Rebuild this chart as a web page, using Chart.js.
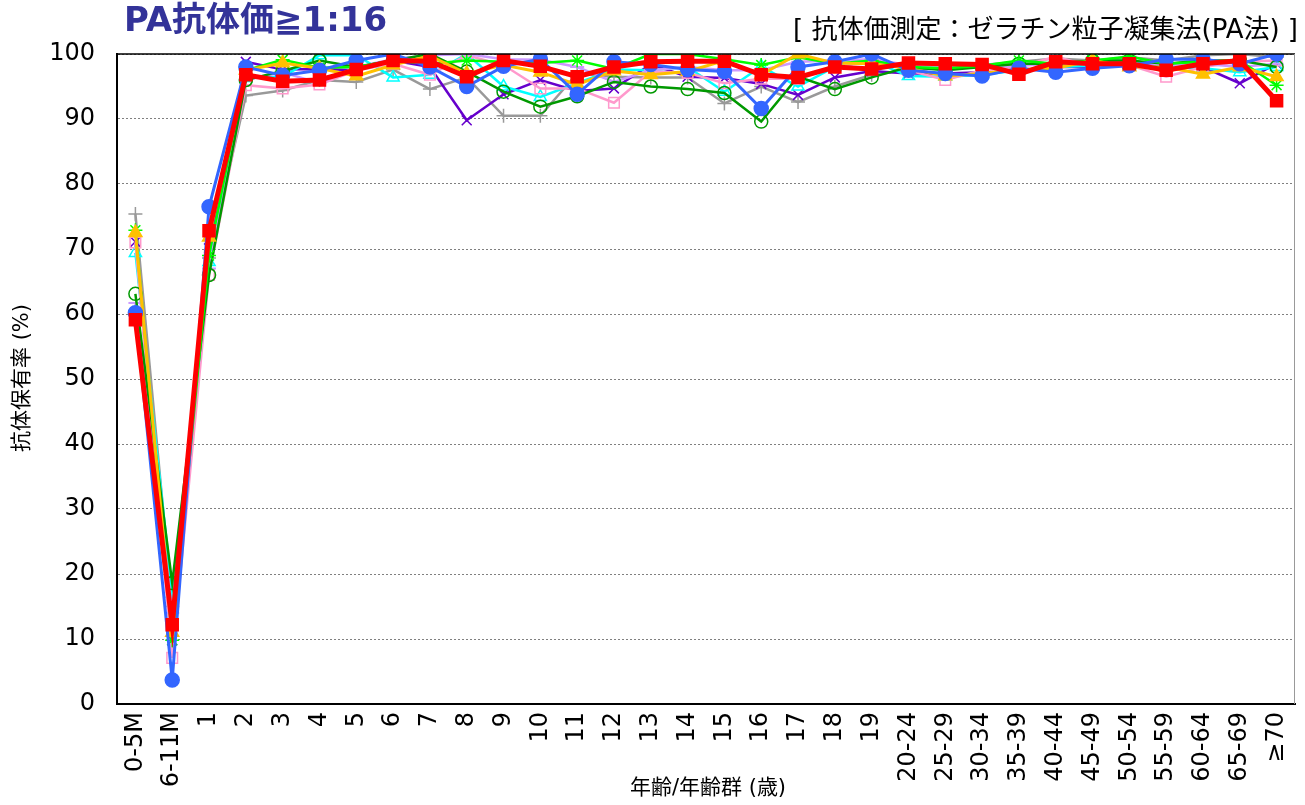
<!DOCTYPE html>
<html>
<head>
<meta charset="utf-8">
<script src="https://cdn.jsdelivr.net/npm/chart.js@4/dist/chart.umd.min.js"></script>
<style>
html,body{margin:0;padding:0;background:#fff;}
#wrap{position:relative;width:1305px;height:805px;}
canvas{display:block;}
</style>
</head>
<body>
<div id="wrap"><canvas id="c" width="1305" height="805"></canvas></div>
<script>
const categories = ['0-5M','6-11M','1','2','3','4','5','6','7','8','9','10','11','12','13','14','15','16','17','18','19','20-24','25-29','30-34','35-39','40-44','45-49','50-54','55-59','60-64','65-69','≥70'];
const yTicks = [0,10,20,30,40,50,60,70,80,90,100];

const redSeries      = [59.1,12.2,72.8,96.8,95.8,96.0,97.6,99.0,98.9,96.5,99.0,98.1,96.5,98.0,98.8,98.9,98.9,96.8,96.4,98.0,97.7,98.6,98.5,98.4,96.9,98.8,98.5,98.5,97.5,98.5,99.0,92.8];
const blueSeries     = [60.2,3.7,76.5,98.0,96.7,97.5,99.0,100,98.0,95.0,98.1,99.2,93.8,98.8,98.4,97.6,97.3,91.6,98.0,98.8,100,97.5,97.0,96.6,97.8,97.2,97.8,98.2,99.2,99.2,98.5,100];
const goldSeries     = [72.5,11.0,71.8,97.5,98.6,97.8,96.6,98.3,99.7,97.0,98.3,97.2,95.3,97.4,96.8,97.3,99.0,96.8,100,98.6,98.5,97.8,96.6,97.0,97.6,97.8,99.0,98.0,98.0,96.9,98.0,96.5];
const greenSeries    = [63.1,18.6,66.0,96.0,97.4,99.0,98.0,99.0,100,97.3,94.2,91.9,93.5,95.7,95.0,94.6,94.0,89.6,96.5,94.6,96.4,98.0,97.5,98.0,98.5,98.5,99.0,99.0,98.5,99.0,99.0,98.0];
const graySeries     = [75.4,15.0,68.6,93.6,94.4,96.0,95.7,97.6,94.6,96.4,90.5,90.5,97.0,96.5,96.4,96.4,92.4,95.0,92.6,95.0,96.8,97.5,98.0,98.3,98.8,99.3,99.0,99.5,99.0,99.8,100,99.5];
const purpleSeries   = [71.1,9.8,70.1,98.8,97.6,97.7,97.5,99.0,98.0,89.8,93.8,96.0,94.3,94.7,98.4,96.5,96.3,95.4,93.7,96.4,97.4,97.0,97.0,97.2,97.3,98.0,98.0,98.5,98.0,98.0,95.5,98.5];
const cyanSeries     = [69.4,17.0,68.0,96.3,96.5,99.8,99.8,96.4,96.8,100,95.0,93.4,95.5,97.6,97.5,98.0,94.2,98.1,95.0,98.0,99.0,96.6,96.5,96.8,97.5,98.0,98.2,98.3,98.0,97.8,97.2,98.0];
const pinkSeries     = [71.0,7.1,66.0,95.2,94.7,95.3,97.5,98.5,96.8,99.8,98.3,94.7,94.7,92.5,97.3,97.1,95.5,96.2,96.2,98.0,99.0,97.5,96.0,97.5,98.0,99.6,98.0,98.3,96.5,98.0,98.8,99.0];
const lavenderSeries = [61.7,14.0,67.0,96.0,97.2,95.5,98.0,99.2,99.8,100,99.2,99.1,98.0,95.7,97.5,98.0,97.5,97.5,98.8,99.0,99.2,98.3,98.0,98.0,98.2,98.5,98.8,99.0,98.3,98.5,98.0,98.5];
const limeSeries     = [72.9,9.8,69.0,97.5,99.1,97.9,98.0,99.0,98.5,99.0,98.8,98.6,99.0,97.7,100,100,99.2,98.3,99.5,98.5,99.0,98.0,97.8,98.2,99.0,98.5,99.0,99.6,98.5,98.8,99.0,95.2];

const FONT = "'DejaVu Sans', 'Noto Sans CJK JP', sans-serif";
const TR = 'rgba(0,0,0,0)';

function ds(label, data, color, opts) {
  return Object.assign({
    label: label, data: data, borderColor: color, backgroundColor: color,
    pointBorderColor: color, pointBackgroundColor: color,
    borderWidth: 2.5, pointBorderWidth: 1.5, pointRadius: 6, tension: 0, fill: false
  }, opts);
}

const datasets = [
  ds('series10', redSeries, '#FF0000', {pointStyle:'rect', pointRadius:8.5, borderWidth:5}),
  ds('series9', blueSeries, '#3366FF', {pointStyle:'circle', pointRadius:7, borderWidth:3}),
  ds('series8', goldSeries, '#FFC000', {pointStyle:'triangle', pointRadius:7.5, borderWidth:3}),
  ds('series7', limeSeries, '#00FF00', {pointStyle:'star', pointRadius:7, pointBorderWidth:1.5}),
  ds('series6', greenSeries, '#009900', {pointStyle:'circle', pointRadius:6.5, pointBackgroundColor:TR}),
  ds('series5', lavenderSeries, '#CC99FF', {pointStyle:'line', pointRadius:7, pointBorderWidth:2}),
  ds('series4', pinkSeries, '#FF99CC', {pointStyle:'rect', pointRadius:7.5, pointBackgroundColor:TR}),
  ds('series3', cyanSeries, '#00FFFF', {pointStyle:'triangle', pointRadius:7, pointBackgroundColor:TR}),
  ds('series2', purpleSeries, '#6600CC', {pointStyle:'crossRot', pointRadius:7}),
  ds('series1', graySeries, '#999999', {pointStyle:'cross', pointRadius:7}),
];

const decor = {
  id: 'decor',
  afterDraw(chart) {
    const ctx = chart.ctx, a = chart.chartArea;
    ctx.save();
    // frame
    ctx.strokeStyle = '#000'; ctx.lineWidth = 1.5;
    ctx.beginPath(); ctx.moveTo(a.left, a.top); ctx.lineTo(a.right, a.top); ctx.stroke();
    ctx.lineWidth = 2;
    ctx.beginPath(); ctx.moveTo(a.left, a.top); ctx.lineTo(a.left, a.bottom); ctx.stroke();
    ctx.strokeStyle = '#999'; ctx.lineWidth = 1;
    ctx.beginPath(); ctx.moveTo(a.right - 0.5, a.top); ctx.lineTo(a.right - 0.5, a.bottom); ctx.stroke();
    // main title
    ctx.fillStyle = '#333399';
    ctx.font = "bold 34px " + FONT;
    ctx.textAlign = 'left'; ctx.textBaseline = 'middle';
    ctx.fillText('PA抗体価≧1:16', 124, 22);
    // subtitle
    ctx.fillStyle = '#000';
    ctx.font = "26px " + FONT;
    ctx.textAlign = 'right';
    ctx.fillText('[ 抗体価測定：ゼラチン粒子凝集法(PA法) ]', 1298, 31);
    // x title
    ctx.font = "21px " + FONT;
    ctx.textAlign = 'center';
    ctx.fillText('年齢/年齢群 (歳)', 708, 789);
    // y title
    ctx.translate(23, 378);
    ctx.rotate(-Math.PI / 2);
    ctx.fillText('抗体保有率 (%)', 0, 0);
    ctx.restore();
  }
};

new Chart(document.getElementById('c'), {
  type: 'line',
  data: { labels: categories, datasets: datasets },
  options: {
    responsive: false,
    animation: false,
    layout: { padding: { top: 54, right: 5, left: 0, bottom: 0 } },
    plugins: { legend: { display: false }, tooltip: { enabled: false }, title: { display: false } },
    scales: {
      x: {
        type: 'category',
        offset: true,
        grid: { display: false, drawTicks: false },
        border: { display: true, color: '#000', width: 2 },
        ticks: { color: '#000', font: { size: 24, family: FONT }, minRotation: 90, maxRotation: 90, padding: 8, autoSkip: false },
        afterFit(scale) { scale.height = 101; scale.paddingLeft = 0; scale.paddingRight = 0; }
      },
      y: {
        min: 0, max: 100,
        afterBuildTicks(scale) { scale.ticks = yTicks.map(v => ({ value: v })); },
        grid: { color: '#808080', lineWidth: 1, drawTicks: false },
        border: { display: true, color: '#000', width: 2, dash: [2, 2] },
        ticks: { color: '#000', font: { size: 24, family: FONT }, padding: 22 },
        afterFit(scale) { scale.width = 117; scale.paddingTop = 0; scale.paddingBottom = 0; }
      }
    }
  },
  plugins: [decor]
});
</script>
